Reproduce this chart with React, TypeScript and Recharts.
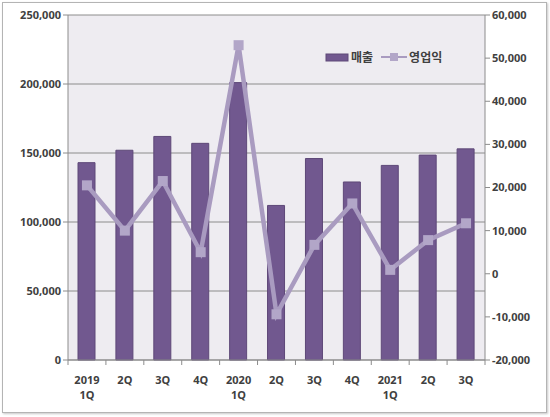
import * as React from "react";
import { ComposedChart, Bar, Line, XAxis, YAxis, CartesianGrid } from "recharts";

const years = ["2019", "", "", "", "2020", "", "", "", "2021", "", ""];
const quarters = ["1Q", "2Q", "3Q", "4Q", "1Q", "2Q", "3Q", "4Q", "1Q", "2Q", "3Q"];
const sales = [143000, 152000, 162000, 157000, 201000, 112000, 146000, 129000, 141000, 148500, 153000];
const profit = [20500, 10000, 21500, 5000, 53000, -9400, 6700, 16300, 900, 7800, 11700];
const leftTicks = [0, 50000, 100000, 150000, 200000, 250000];
const rightTicks = [-20000, -10000, 0, 10000, 20000, 30000, 40000, 50000, 60000];

const W = 550;
const H = 417;
const LEFT_W = 68;
const RIGHT_W = 65;
const X_H = 57;
const PLOT_W = W - LEFT_W - RIGHT_W;

const BAR = "#71588F";
const LINE = "#A99BC0";
const TEXT = "#404040";
const AXIS = "#8c8c8c";
const FONT = "'Noto Sans', 'Noto Sans CJK KR', sans-serif";

const rows = quarters.map((q, i) => ({
  key: i,
  year: years[i],
  q,
  매출: sales[i],
  영업익: profit[i],
}));

const fmt = (v: number) => v.toLocaleString("en-US");

function XTick(props: any) {
  const { x, y, payload, index } = props;
  const r = rows[payload.value] ?? rows[index];
  const step = PLOT_W / rows.length;
  const top = r.year ? r.year : r.q;
  return (
    <g>
      <line x1={x - step / 2} x2={x - step / 2} y1={y - 8} y2={y - 3} stroke={AXIS} />
      {index === rows.length - 1 && (
        <line x1={x + step / 2} x2={x + step / 2} y1={y - 8} y2={y - 3} stroke={AXIS} />
      )}
      <text x={x} y={y + 16} textAnchor="middle" fill={TEXT} fontSize={11} fontWeight={700} fontFamily={FONT}>
        {top}
      </text>
      {r.year && (
        <text x={x} y={y + 31} textAnchor="middle" fill={TEXT} fontSize={11} fontWeight={700} fontFamily={FONT}>
          {r.q}
        </text>
      )}
    </g>
  );
}

function SquareDot(props: any) {
  const { cx, cy } = props;
  if (cx == null || cy == null) return null;
  return <rect x={cx - 5} y={cy - 5} width={10} height={10} fill="#B2A6C8" />;
}

function LegendBox() {
  return (
    <div style={{ display: "flex", alignItems: "center", fontFamily: "'Noto Sans CJK KR', sans-serif", fontSize: 12, fontWeight: 700, color: TEXT }}>
      <svg width={24} height={10}>
        <rect x={1} y={2} width={22} height={7} fill={BAR} stroke="#5E4878" />
      </svg>
      <span style={{ marginLeft: 2, marginRight: 8 }}>매출</span>
      <svg width={26} height={12}>
        <line x1={0} x2={26} y1={6} y2={6} stroke={LINE} strokeWidth={2} />
        <rect x={9} y={2} width={8} height={8} fill="#B2A6C8" />
      </svg>
      <span style={{ marginLeft: 2 }}>영업익</span>
    </div>
  );
}

export default function App() {
  return (
    <div style={{ position: "absolute", left: 0, top: 0, width: W, height: H, background: "#fff" }}>
      <div
        style={{
          position: "absolute",
          left: 2,
          top: 2,
          width: 543,
          height: 409,
          border: "1px solid #b4b4b4",
          boxShadow: "1px 1px 2px #c8c8c8",
        }}
      />
      <div style={{ position: "absolute", left: 0, top: 0 }}>
        <ComposedChart width={W} height={H} data={rows} margin={{ top: 15, right: 0, left: 0, bottom: 0 }}>
          <CartesianGrid yAxisId="left" vertical={false} stroke={AXIS} strokeWidth={1} fill="#EEECF1" />
          <XAxis
            dataKey="key"
            height={X_H}
            tick={<XTick />}
            tickLine={false}
            axisLine={{ stroke: AXIS }}
            interval={0}
          />
          <YAxis
            yAxisId="left"
            width={LEFT_W}
            domain={[0, 250000]}
            ticks={leftTicks}
            tickFormatter={fmt}
            axisLine={{ stroke: AXIS }}
            tickLine={{ stroke: AXIS }}
            tickSize={5}
            tick={{ fill: TEXT, fontSize: 11, fontWeight: 700, fontFamily: FONT }}
          />
          <YAxis
            yAxisId="right"
            orientation="right"
            width={RIGHT_W}
            domain={[-20000, 60000]}
            ticks={rightTicks}
            tickFormatter={fmt}
            axisLine={{ stroke: AXIS }}
            tickLine={{ stroke: AXIS }}
            tickSize={5}
            tick={{ fill: TEXT, fontSize: 11, fontWeight: 700, fontFamily: FONT }}
          />
          <Bar yAxisId="left" dataKey="매출" fill={BAR} stroke="#5E4878" barSize={17} isAnimationActive={false} />
          <Line
            yAxisId="right"
            dataKey="영업익"
            stroke={LINE}
            strokeWidth={4.5}
            dot={<SquareDot />}
            activeDot={false}
            isAnimationActive={false}
          />
        </ComposedChart>
      </div>
      <div style={{ position: "absolute", left: 325, top: 48 }}>
        <LegendBox />
      </div>
    </div>
  );
}
